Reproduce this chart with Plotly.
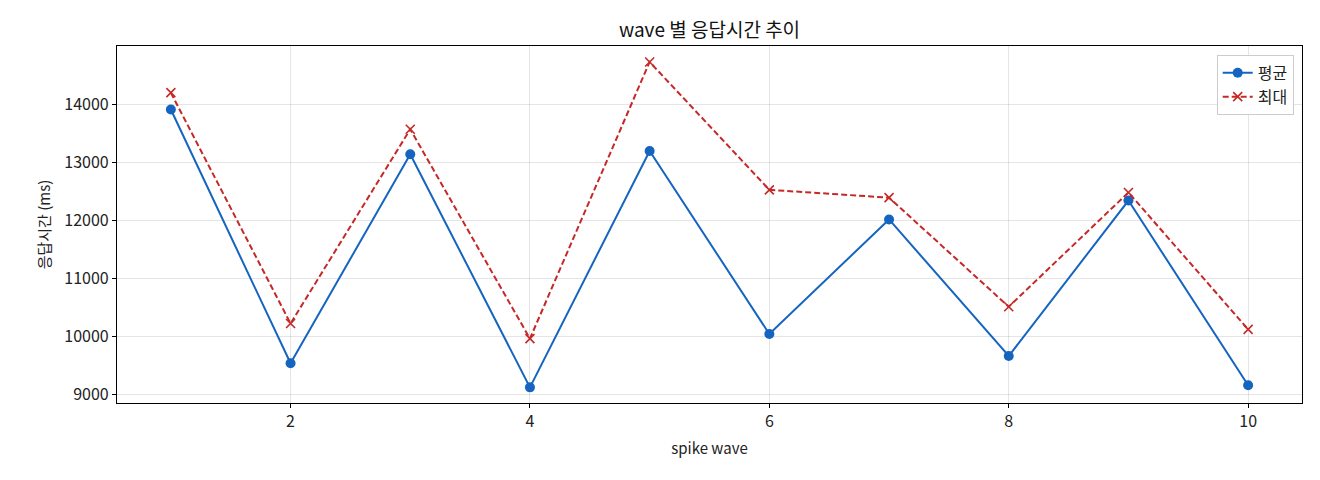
import plotly.graph_objects as go

waves = [1, 2, 3, 4, 5, 6, 7, 8, 9, 10]
avg_ms = [13910, 9535, 13140, 9120, 13195, 10040, 12015, 9660, 12340, 9155]
max_ms = [14200, 10220, 13570, 9960, 14730, 12525, 12390, 10510, 12480, 10120]
x_ticks = [2, 4, 6, 8, 10]
y_ticks = [9000, 10000, 11000, 12000, 13000, 14000]

font = "Noto Sans CJK KR"

fig = go.Figure()
fig.add_trace(go.Scatter(x=waves, y=avg_ms, mode="lines+markers", name="평균",
                         line=dict(color="#1565c0", width=2),
                         marker=dict(symbol="circle", size=10, color="#1565c0")))
fig.add_trace(go.Scatter(x=waves, y=max_ms, mode="lines+markers", name="최대",
                         line=dict(color="#c62828", width=2, dash="6px,3px"),
                         marker=dict(symbol="x-thin", size=9,
                                     line=dict(color="#c62828", width=1.6))))

axis_common = dict(showline=True, linecolor="black", linewidth=1.2, mirror=True,
                   showgrid=True, gridcolor="rgba(0,0,0,0.1)", gridwidth=1,
                   ticks="outside", ticklen=4, tickcolor="black", zeroline=False,
                   tickfont=dict(family=font, size=16, color="#222"))

fig.update_xaxes(range=[0.55, 10.45], tickvals=x_ticks, ticktext=[str(v) for v in x_ticks],
                 title=dict(text="spike wave", font=dict(family=font, size=15, color="#222"), standoff=12),
                 **axis_common)
fig.update_yaxes(range=[8850, 15005], tickvals=y_ticks, ticktext=[str(v) for v in y_ticks],
                 title=dict(text="응답시간 (ms)", font=dict(family=font, size=15, color="#222"), standoff=10),
                 **axis_common)

fig.update_layout(
    width=1312, height=472,
    margin=dict(l=109, r=18, t=38, b=77),
    plot_bgcolor="white", paper_bgcolor="white",
    title=dict(text="wave 별 응답시간 추이", xref="paper", x=0.5, xanchor="center",
               y=0.953, yanchor="middle",
               font=dict(family=font, size=19, color="#111")),
    legend=dict(x=0.993, y=0.975, xanchor="right", yanchor="top",
                bgcolor="rgba(255,255,255,0.9)", bordercolor="#ccc", borderwidth=1,
                font=dict(family=font, size=16, color="#222")),
    showlegend=True,
)

fig.write_html("out.html")
